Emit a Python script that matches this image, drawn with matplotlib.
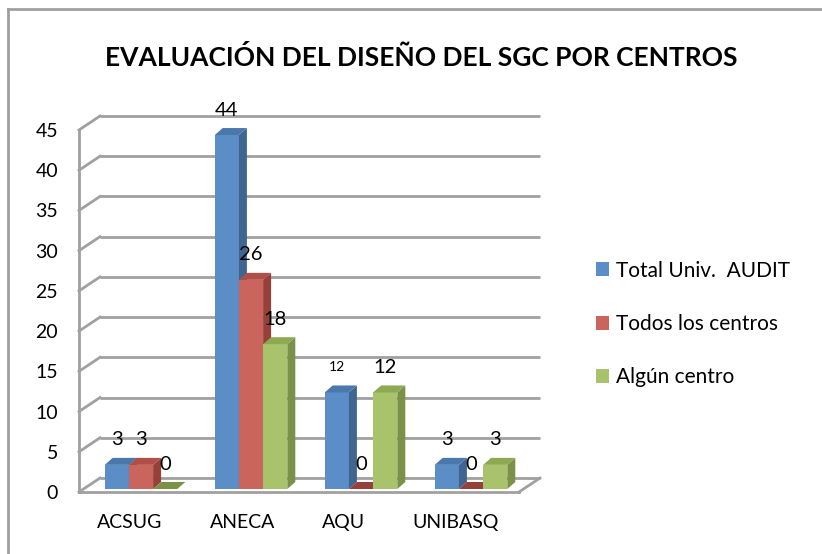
import numpy as np
import matplotlib
matplotlib.use('Agg')
import matplotlib.pyplot as plt
from matplotlib.transforms import ScaledTranslation, IdentityTransform
from matplotlib.patches import Polygon
from matplotlib.lines import Line2D

plt.rcParams['font.family'] = ['Lato', 'DejaVu Sans']

# data
categories = ['ACSUG', 'ANECA', 'AQU', 'UNIBASQ']
series_names = ['Total Univ.  AUDIT', 'Todos los centros', 'Algún centro']
total_audit = [3, 44, 12, 3]
todos_centros = [3, 26, 0, 0]
algun_centro = [0, 18, 12, 3]
y_ticks = [0, 5, 10, 15, 20, 25, 30, 35, 40, 45]

series = [total_audit, todos_centros, algun_centro]
front_cols = ['#5B8EC6', '#C9655C', '#A8C36C']
side_cols = ['#3F6591', '#96403A', '#7B9148']
top_cols = ['#4A78AC', '#B04F48', '#8DAA52']
grid_col = '#A0A0A0'

W, H = 822, 554
DPI = 100
fig = plt.figure(figsize=(W / DPI, H / DPI), dpi=DPI)

def frac(px_left, px_top, px_right, px_bottom):
    return [px_left / W, 1 - px_bottom / H, (px_right - px_left) / W, (px_bottom - px_top) / H]

# front plane of the 3d box
ax = fig.add_axes(frac(79, 130, 519, 492))
ax.set_xlim(-0.5, 3.5)
ax.set_ylim(0, 45)
for s in ax.spines.values():
    s.set_visible(False)
ax.patch.set_visible(False)
ax.set_yticks(y_ticks)
ax.set_yticklabels([str(t) for t in y_ticks], fontsize=14)
ax.tick_params(axis='y', length=0, pad=15)
ax.set_xticks(range(len(categories)))
ax.set_xticklabels(categories, fontsize=14)
ax.tick_params(axis='x', length=0, pad=16)
for lbl, dx in zip(ax.get_xticklabels(), [-4, -1, -11, -8]):
    lbl.set_transform(lbl.get_transform() + ScaledTranslation(dx / DPI, 0, fig.dpi_scale_trans))

# depth offsets in pixels
wall_dx, wall_dy = 21, 14
back = ax.transData + ScaledTranslation(wall_dx / DPI, wall_dy / DPI, fig.dpi_scale_trans)
bar_tr = ax.transData + ScaledTranslation(7 / DPI, 3 / DPI, fig.dpi_scale_trans)
bdx, bdy = 8, 7

def disp(x, y, tr):
    return tr.transform((x, y))

def pline(p, q, **kw):
    ax.add_line(Line2D([p[0], q[0]], [p[1], q[1]], transform=IdentityTransform(),
                       clip_on=False, **kw))

# back wall gridlines and left wall diagonals
for t in y_ticks:
    ax.plot([-0.5, 3.5], [t, t], color=grid_col, lw=2, transform=back, zorder=1,
            solid_capstyle='butt', clip_on=False)
    if t > 0:
        pline(disp(-0.5, t, ax.transData), disp(-0.5, t, back), color=grid_col, lw=2, zorder=1)
# left wall front edge
pline(disp(-0.5, 0, ax.transData), disp(-0.5, 45, ax.transData), color=grid_col, lw=2, zorder=1)
# floor
pline(disp(-0.5, 0, ax.transData), disp(-0.5, 0, back), color=grid_col, lw=2, zorder=1)
pline(disp(-0.5, 0, ax.transData), disp(3.5, 0, ax.transData), color=grid_col, lw=2, zorder=1)
pline(disp(3.5, 0, ax.transData), disp(3.5, 0, back), color=grid_col, lw=2, zorder=1)

# bars with 3d side and top faces
bw = 0.22
for i, vals in enumerate(series):
    xs = np.arange(len(categories)) + (i - 1) * bw
    bars = ax.bar(xs, vals, width=bw, color=front_cols[i], linewidth=0, zorder=3,
                  label=series_names[i], clip_on=False)
    for b, x, v in zip(bars, xs, vals):
        b.set_transform(bar_tr)
        x0, x1 = x - bw / 2, x + bw / 2
        p10 = disp(x1, 0, bar_tr)
        p01 = disp(x0, v, bar_tr)
        p11 = disp(x1, v, bar_tr)
        off = np.array([bdx, bdy])
        if v > 0:
            ax.add_patch(Polygon([p10, p11, p11 + off, p10 + off], closed=True, clip_on=False,
                                 facecolor=side_cols[i], lw=0, transform=IdentityTransform(), zorder=3))
        ax.add_patch(Polygon([p01, p11, p11 + off, p01 + off], closed=True, clip_on=False,
                             facecolor=top_cols[i] if v > 0 else side_cols[i], lw=0,
                             transform=IdentityTransform(), zorder=3))
        fs = 10 if (i == 0 and v == 12) else 14.5
        ax.annotate(str(v), xy=(x, v), xycoords=bar_tr, xytext=(0, 18),
                    textcoords='offset points', ha='center', va='center',
                    fontsize=fs, zorder=5)

# title
fig.text(421 / W, 1 - 57 / H, 'EVALUACIÓN DEL DISEÑO DEL SGC POR CENTROS',
         ha='center', va='center', fontsize=19, fontweight='bold')

# legend
leg = fig.legend(*ax.get_legend_handles_labels(), loc='upper left',
                 bbox_to_anchor=(577 / W, 1 - 242 / H), frameon=False, fontsize=15,
                 handlelength=0.65, handleheight=0.65, handletextpad=0.3, labelspacing=1.6)

# chart border (only top and left visible in the crop)
fig.add_artist(Line2D([8 / W, 1.1], [1 - 9 / H, 1 - 9 / H], transform=fig.transFigure,
                      color=grid_col, lw=2))
fig.add_artist(Line2D([8 / W, 8 / W], [1 - 9 / H, -0.1], transform=fig.transFigure,
                      color=grid_col, lw=2))

fig.savefig('out.png', dpi=DPI)
